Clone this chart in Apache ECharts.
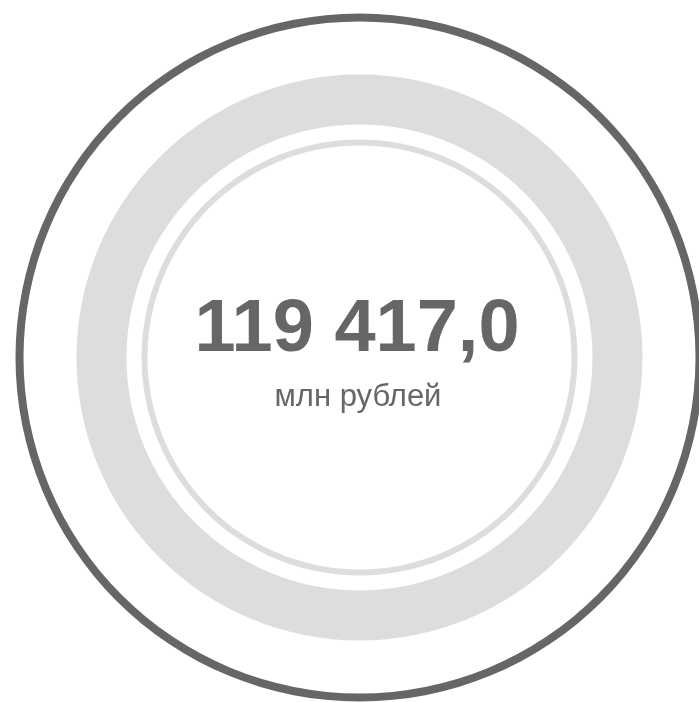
<!DOCTYPE html>
<html>
<head>
<meta charset="utf-8">
<script src="https://cdn.jsdelivr.net/npm/echarts@6/dist/echarts.min.js"></script>
<style>
  html, body { margin: 0; padding: 0; background: #fff; }
  #chart { width: 699px; height: 702px; }
</style>
</head>
<body>
<div id="chart"></div>
<script>
// итоговая сумма
const totalValue = 119417.0
const unitLabel = 'млн рублей'
// кольца: одна заливка на кольцо
const ringNames = ['outer', 'band', 'inner']
const ringValues = [1, 1, 1]

function formatRub (v) {
  const parts = v.toFixed(1).split('.')
  const int = parts[0].replace(/\B(?=(\d{3})+(?!\d))/g, ' ')
  return int + ',' + parts[1]
}

const myChart = echarts.init(document.getElementById('chart'))
const center = [359.5, 357.5]

const option = {
  animation: false,
  title: [
    {
      text: formatRub(totalValue),
      left: 352,
      top: 289,
      textAlign: 'center',
      textStyle: {
        fontFamily: 'Liberation Sans, Arial, sans-serif',
        fontSize: 74,
        fontWeight: 'bold',
        color: '#666'
      }
    },
    {
      text: unitLabel,
      left: 353,
      top: 377,
      textAlign: 'center',
      textStyle: {
        fontFamily: 'Liberation Sans, Arial, sans-serif',
        fontSize: 31,
        fontWeight: 'normal',
        color: '#666'
      }
    }
  ],
  series: [
    {
      type: 'pie',
      name: ringNames[0],
      silent: true,
      center: center,
      radius: [336, 344],
      label: { show: false },
      labelLine: { show: false },
      itemStyle: { color: '#666' },
      data: [ringValues[0]]
    },
    {
      type: 'pie',
      name: ringNames[1],
      silent: true,
      center: center,
      radius: [233, 283],
      label: { show: false },
      labelLine: { show: false },
      itemStyle: { color: '#ddd' },
      data: [ringValues[1]]
    },
    {
      type: 'pie',
      name: ringNames[2],
      silent: true,
      center: center,
      radius: [212, 218],
      label: { show: false },
      labelLine: { show: false },
      itemStyle: { color: '#ddd' },
      data: [ringValues[2]]
    }
  ]
}
myChart.setOption(option)
</script>
</body>
</html>
